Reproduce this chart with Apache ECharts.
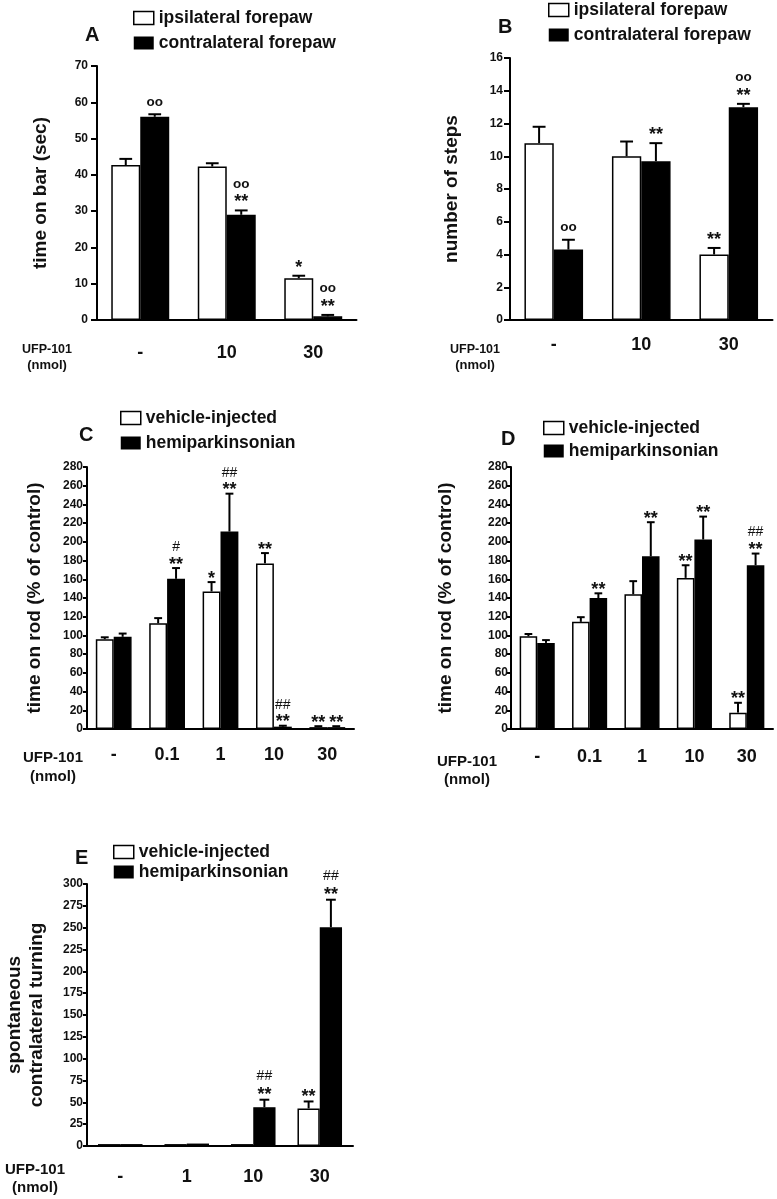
<!DOCTYPE html>
<html><head><meta charset="utf-8">
<script src="https://cdn.jsdelivr.net/npm/echarts@6/dist/echarts.min.js"></script>
<style>html,body{margin:0;padding:0;background:#fff}#c{width:777px;height:1199px}</style>
</head><body><div id="c"></div><script>
const FONT = '"Liberation Sans", Arial, Helvetica, sans-serif';
const INK = '#111';

// ---------- Panel A ----------
const aCategories = ['-', '10', '30'];
const aIpsi = [42.7, 42.3, 11.5];
const aIpsiErr = [44.4, 43.2, 12.2];
const aContra = [56.0, 29.0, 1.0];
const aContraErr = [56.7, 30.2, 1.4];
const aIpsiMarks = [[], [], ['*']];
const aContraMarks = [['oo'], ['**', 'oo'], ['**', 'oo']];
const aTicks = [0, 70, 10];

// ---------- Panel B ----------
const bCategories = ['-', '10', '30'];
const bIpsi = [10.8, 10.0, 4.0];
const bIpsiErr = [11.8, 10.9, 4.4];
const bContra = [4.3, 9.7, 13.0];
const bContraErr = [4.9, 10.8, 13.2];
const bIpsiMarks = [[], [], ['**']];
const bContraMarks = [['oo'], ['**'], ['**', 'oo']];
const bTicks = [0, 16, 2];

// ---------- Panel C ----------
const cCategories = ['-', '0.1', '1', '10', '30'];
const cVehicle = [96, 113, 147, 177, 2];
const cVehicleErr = [98, 118.5, 157, 188, 3];
const cHemi = [98.5, 160.5, 211, 2.5, 2];
const cHemiErr = [102, 172, 251.5, 3.5, 3];
const cVehicleMarks = [[], [], ['*'], ['**'], ['**']];
const cHemiMarks = [[], ['**', '#'], ['**', '##'], ['**', '##'], ['**']];
const cTicks = [0, 280, 20];

// ---------- Panel D ----------
const dCategories = ['-', '0.1', '1', '10', '30'];
const dVehicle = [99, 114.5, 144, 161.5, 17.5];
const dVehicleErr = [101.5, 119.5, 158, 175, 28];
const dHemi = [92, 140, 184.5, 202.5, 175];
const dHemiErr = [95, 145, 221, 227, 187.5];
const dVehicleMarks = [[], [], [], ['**'], ['**']];
const dHemiMarks = [[], ['**'], ['**'], ['**'], ['**', '##']];
const dTicks = [0, 280, 20];

// ---------- Panel E ----------
const eCategories = ['-', '1', '10', '30'];
const eVehicle = [2.2, 2.2, 2.2, 43];
const eVehicleErr = [2.2, 2.2, 2.2, 51];
const eHemi = [2.2, 2.8, 44.5, 250.5];
const eHemiErr = [2.2, 2.8, 53, 282];
const eVehicleMarks = [[], [], [], ['**']];
const eHemiMarks = [[], [], ['**', '##'], ['**', '##']];
const eTicks = [0, 300, 25];

const forepawNames = ['ipsilateral forepaw', 'contralateral forepaw'];
const groupNames = ['vehicle-injected', 'hemiparkinsonian'];
const xTitle = ['UFP-101', '(nmol)'];

const GAP = 0.33;

const panels = [
  { letter: 'A', cats: aCategories, w: aIpsi, we: aIpsiErr, b: aContra, be: aContraErr, wm: aIpsiMarks, bm: aContraMarks, ticks: aTicks, names: forepawNames,
    yName: 'time on bar (sec)', grid: { left: 97, top: 66, width: 259.5, height: 254 }, nameGap: 45.5, tickLen: 6, labMargin: 9, xMargin: 24,
    legend: { left: 133, top: 9, gap: 7 }, letterPos: [92, 35], ufp: [47, 350, 365], ufpSize: 12.5, nmolSize: 13, mg: 11, ms: 14.5 },
  { letter: 'B', cats: bCategories, w: bIpsi, we: bIpsiErr, b: bContra, be: bContraErr, wm: bIpsiMarks, bm: bContraMarks, ticks: bTicks, names: forepawNames,
    yName: 'number of steps', grid: { left: 510, top: 58, width: 262.5, height: 262 }, nameGap: 47.5, tickLen: 6, labMargin: 7, xMargin: 16,
    legend: { left: 548, top: 1, gap: 7 }, letterPos: [505, 27], ufp: [475, 350, 365], ufpSize: 12.5, nmolSize: 13, mg: 11, ms: 14.5 },
  { letter: 'C', cats: cCategories, w: cVehicle, we: cVehicleErr, b: cHemi, be: cHemiErr, wm: cVehicleMarks, bm: cHemiMarks, ticks: cTicks, names: groupNames,
    yName: 'time on rod (% of control)', grid: { left: 87, top: 467, width: 267, height: 262 }, nameGap: 41.5, tickLen: 4, labMargin: 4, xMargin: 17,
    legend: { left: 120, top: 409, gap: 7 }, letterPos: [86, 435], ufp: [53, 758, 777], ufpSize: 15, nmolSize: 15, mg: 6.5, ms: 14.5 },
  { letter: 'D', cats: dCategories, w: dVehicle, we: dVehicleErr, b: dHemi, be: dHemiErr, wm: dVehicleMarks, bm: dHemiMarks, ticks: dTicks, names: groupNames,
    yName: 'time on rod (% of control)', grid: { left: 511, top: 467, width: 262, height: 262 }, nameGap: 54.5, tickLen: 4, labMargin: 3, xMargin: 19,
    legend: { left: 543, top: 419, gap: 5 }, letterPos: [508, 439], ufp: [467, 762, 780], ufpSize: 15, nmolSize: 15, mg: 6.5, ms: 14.5 },
  { letter: 'E', cats: eCategories, w: eVehicle, we: eVehicleErr, b: eHemi, be: eHemiErr, wm: eVehicleMarks, bm: eHemiMarks, ticks: eTicks, names: groupNames,
    yName: 'spontaneous\ncontralateral turning', grid: { left: 87, top: 884, width: 266, height: 262 }, nameGap: 39, tickLen: 4, labMargin: 4, xMargin: 22,
    legend: { left: 113, top: 843, gap: 2 }, letterPos: [82, 858], ufp: [35, 1170, 1188], ufpSize: 15, nmolSize: 15, mg: 7.5, ms: 16 }
];

function markStyle(t) {
  if (t[0] === '*') return { fontSize: 18, fontWeight: 'bold', dy: 3 };
  if (t[0] === '#') return { fontSize: 14, fontWeight: 'normal', dy: 0 };
  return { fontSize: 13.5, fontWeight: 'bold', dy: -1 };
}

function errSeries(idx, vals, errs, marks, side, p) {
  return {
    type: 'custom', xAxisIndex: idx, yAxisIndex: idx, z: 5, silent: true,
    encode: { x: 0, y: 2 },
    data: vals.map((v, i) => [i, v, errs[i]]),
    renderItem(params, api) {
      const i = api.value(0), v = api.value(1), e = api.value(2);
      const band = api.size([1, 0])[0];
      const bw = band * (1 - GAP) / 2;
      const cx = api.coord([i, 0])[0] + (side === 0 ? -bw / 2 : bw / 2);
      const y0 = api.coord([i, v])[1];
      const y1 = api.coord([i, e])[1];
      const cap = bw * 0.22;
      const children = [];
      if (e > v) {
        children.push({ type: 'line', shape: { x1: cx, y1: y0, x2: cx, y2: y1 }, style: { stroke: '#000', lineWidth: 2 } });
        children.push({ type: 'line', shape: { x1: cx - cap, y1: y1, x2: cx + cap, y2: y1 }, style: { stroke: '#000', lineWidth: 2 } });
      }
      (marks[params.dataIndex] || []).forEach((t, k) => {
        const s = markStyle(t);
        const vis = y1 - p.mg - k * p.ms;
        children.push({ type: 'text', style: { text: t, x: cx, y: vis + s.dy, align: 'center', verticalAlign: 'middle',
          fontSize: s.fontSize, fontWeight: s.fontWeight, fontFamily: FONT, fill: INK } });
      });
      return { type: 'group', children };
    }
  };
}

const option = { animation: false, backgroundColor: '#fff', grid: [], xAxis: [], yAxis: [], series: [], legend: [], graphic: [] };

panels.forEach((p, idx) => {
  option.grid.push(Object.assign({ outerBoundsMode: 'none', containLabel: false }, p.grid));
  option.xAxis.push({
    type: 'category', gridIndex: idx, data: p.cats,
    axisLine: { show: true, lineStyle: { color: '#000', width: 2 } },
    axisTick: { show: false },
    axisLabel: { fontSize: 18, fontWeight: 'bold', fontFamily: FONT, color: INK, margin: p.xMargin, interval: 0 },
    splitLine: { show: false }
  });
  option.yAxis.push({
    type: 'value', gridIndex: idx, min: p.ticks[0], max: p.ticks[1], interval: p.ticks[2],
    axisLine: { show: true, lineStyle: { color: '#000', width: 2 } },
    axisTick: { show: true, length: p.tickLen, lineStyle: { color: '#000', width: 2 } },
    axisLabel: { fontSize: 12, fontWeight: 'bold', fontFamily: FONT, color: INK, margin: p.labMargin },
    splitLine: { show: false },
    name: p.yName, nameLocation: 'middle', nameRotate: 90, nameGap: p.nameGap, nameMoveOverlap: false,
    nameTextStyle: { fontSize: 19, fontWeight: 'bold', fontFamily: FONT, color: INK, lineHeight: 22 }
  });
  option.series.push({
    type: 'bar', name: p.names[0], xAxisIndex: idx, yAxisIndex: idx, data: p.w,
    barGap: '0%', barCategoryGap: (GAP * 100) + '%',
    itemStyle: { color: '#fff', borderColor: '#000', borderWidth: 1.5 }, silent: true
  });
  option.series.push({
    type: 'bar', name: p.names[1], xAxisIndex: idx, yAxisIndex: idx, data: p.b,
    barGap: '0%', barCategoryGap: (GAP * 100) + '%',
    itemStyle: { color: '#000', borderColor: '#000', borderWidth: 1.5 }, silent: true
  });
  option.series.push(errSeries(idx, p.w, p.we, p.wm, 0, p));
  option.series.push(errSeries(idx, p.b, p.be, p.bm, 1, p));
  option.legend.push({
    left: p.legend.left, top: p.legend.top, orient: 'vertical', padding: 0, itemGap: p.legend.gap,
    itemWidth: 20, itemHeight: 13, selectedMode: false, icon: 'rect',
    textStyle: { fontSize: 17.5, fontWeight: 'bold', fontFamily: FONT, color: INK, lineHeight: 18 },
    data: [
      { name: p.names[0], itemStyle: { color: '#fff', borderColor: '#000', borderWidth: 1.5 } },
      { name: p.names[1], itemStyle: { color: '#000', borderColor: '#000', borderWidth: 0 } }
    ]
  });
  option.graphic.push({ type: 'text', left: p.letterPos[0] - 7, top: p.letterPos[1] - 10, silent: true,
    style: { text: p.letter, fontSize: 20, fontWeight: 'bold', fontFamily: FONT, fill: INK } });
  option.graphic.push({ type: 'text', x: p.ufp[0], y: p.ufp[1], silent: true,
    style: { text: xTitle[0], align: 'center', verticalAlign: 'middle', fontSize: p.ufpSize, fontWeight: 'bold', fontFamily: FONT, fill: INK } });
  option.graphic.push({ type: 'text', x: p.ufp[0], y: p.ufp[2], silent: true,
    style: { text: xTitle[1], align: 'center', verticalAlign: 'middle', fontSize: p.nmolSize, fontWeight: 'bold', fontFamily: FONT, fill: INK } });
});

const chart = echarts.init(document.getElementById('c'), null, { renderer: 'canvas' });
chart.setOption(option);
</script></body></html>
